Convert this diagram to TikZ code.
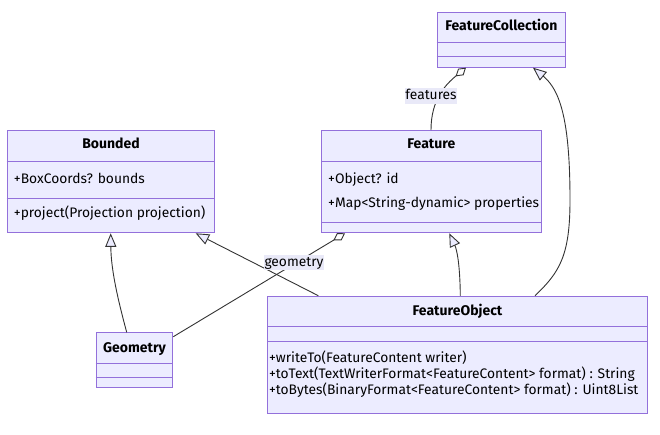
\documentclass[tikz,border=0pt]{standalone}
\usepackage{fontspec}
\setmainfont{Fira Sans}
\usetikzlibrary{arrows.meta}
\definecolor{clsfill}{HTML}{ECECFF}
\definecolor{clsline}{HTML}{9370DB}
\definecolor{edgecol}{HTML}{333333}
\definecolor{lblfill}{HTML}{E9E9F8}
\begin{document}
\begin{tikzpicture}[x=1pt,y=-1pt,
  box/.style={draw=clsline, fill=clsfill, line width=1pt, inner sep=0pt, anchor=north west},
  sep/.style={draw=clsline, line width=1pt},
  ttl/.style={font=\fontsize{14}{16}\selectfont\bfseries, anchor=base, inner sep=0pt},
  mem/.style={font=\fontsize{13.8}{16}\selectfont, anchor=base west, inner sep=0pt},
  lbl/.style={font=\fontsize{13.8}{16}\selectfont, fill=lblfill, inner xsep=0.4pt, inner ysep=1.2pt, text height=10.3pt, text depth=3pt},
  rel/.style={draw=edgecol, line width=0.9pt},
  inh/.style={rel, -{Triangle[open, length=13.5pt, width=11pt, fill=clsfill]}},
  agg/.style={rel, -{Diamond[open, length=13.5pt, width=8.5pt, fill=white]}},
]
\useasboundingbox (0,0) rectangle (660,435);

% FeatureCollection
\node[box, minimum width=128.3pt, minimum height=54.7pt] (fc) at (436.7,12) {};
\draw[sep] ([yshift=-30.7pt]fc.north west) -- ([yshift=-30.7pt]fc.north east);
\draw[sep] ([yshift=-44.7pt]fc.north west) -- ([yshift=-44.7pt]fc.north east);
\node[ttl] (fcT) at ([yshift=-19pt]fc.north) {FeatureCollection};

% Feature
\node[box, minimum width=219.7pt, minimum height=102.3pt] (feat) at (321,130) {};
\draw[sep] ([yshift=-31.7pt]feat.north west) -- ([yshift=-31.7pt]feat.north east);
\draw[sep] ([yshift=-92.7pt]feat.north west) -- ([yshift=-92.7pt]feat.north east);
\node[ttl] (featT) at ([yshift=-19pt]feat.north) {Feature};
\node[mem] (featA) at ([xshift=7pt,yshift=-54pt]feat.north west) {+Object? id};
\node[mem] (featB) at ([xshift=7pt,yshift=-78pt]feat.north west) {+Map<String-dynamic> properties};

% Bounded
\node[box, minimum width=207.6pt, minimum height=102.3pt] (bnd) at (6.7,130) {};
\draw[sep] ([yshift=-31.7pt]bnd.north west) -- ([yshift=-31.7pt]bnd.north east);
\draw[sep] ([yshift=-69pt]bnd.north west) -- ([yshift=-69pt]bnd.north east);
\node[ttl] (bndT) at ([yshift=-19pt]bnd.north) {Bounded};
\node[mem] (bndA) at ([xshift=7pt,yshift=-54pt]bnd.north west) {+BoxCoords? bounds};
\node[mem] (bndB) at ([xshift=7pt,yshift=-88pt]bnd.north west) {+project(Projection projection)};

% Geometry
\node[box, minimum width=76.6pt, minimum height=54.4pt] (geo) at (95.7,332.3) {};
\draw[sep] ([yshift=-31pt]geo.north west) -- ([yshift=-31pt]geo.north east);
\draw[sep] ([yshift=-45pt]geo.north west) -- ([yshift=-45pt]geo.north east);
\node[ttl] (geoT) at ([yshift=-19.7pt]geo.north) {Geometry};

% FeatureObject
\node[box, minimum width=379.4pt, minimum height=117.6pt] (fo) at (267.3,295.7) {};
\draw[sep] ([yshift=-31pt]fo.north west) -- ([yshift=-31pt]fo.north east);
\draw[sep] ([yshift=-45.3pt]fo.north west) -- ([yshift=-45.3pt]fo.north east);
\node[ttl] (foT) at ([yshift=-19.8pt]fo.north) {FeatureObject};
\node[mem] (foA) at ([xshift=1.5pt,yshift=-66.6pt]fo.north west) {+writeTo(FeatureContent writer)};
\node[mem] (foB) at ([xshift=1.5pt,yshift=-83.1pt]fo.north west) {+toText(TextWriterFormat<FeatureContent> format) : String};
\node[mem] (foC) at ([xshift=1.5pt,yshift=-98.8pt]fo.north west) {+toBytes(BinaryFormat<FeatureContent> format) : Uint8List};

% Relations
\draw[agg] ([xshift=110pt]feat.north west) .. controls (431,100) and (445,85) .. ([xshift=29.3pt]fc.south west);
\draw[inh] ([xshift=267.7pt]fo.north west) .. controls (560,272) and (570,255) .. (570,200)
   .. controls (570,120) and (560,90) .. ([xshift=96.3pt]fc.south west);
\draw[inh] ([xshift=193pt]fo.north west) .. controls (460,265) and (457,250) .. ([xshift=128.3pt]feat.south west);
\draw[inh] ([xshift=51pt]fo.north west) -- ([xshift=189pt]bnd.south west);
\draw[inh] ([xshift=31pt]geo.north west) .. controls (118,300) and (111,270) .. ([xshift=104pt]bnd.south west);
\draw[agg] ([yshift=-4.4pt]geo.north east) -- ([xshift=24pt]feat.south west);

% Labels
\node[lbl] (lfeat) at (431,96.2) {features};
\node[lbl] (lgeo) at (294,262.5) {geometry};
\end{tikzpicture}
\end{document}
